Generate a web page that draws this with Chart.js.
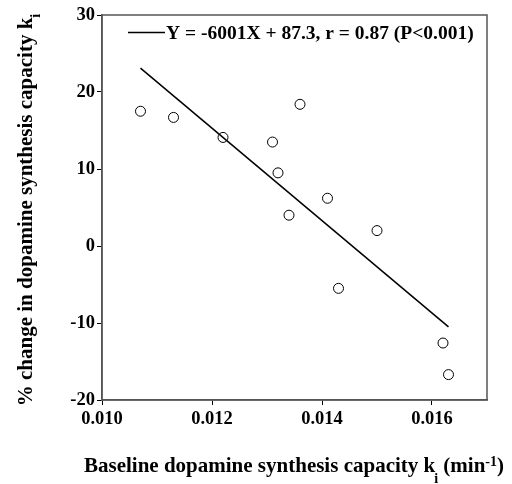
<!DOCTYPE html>
<html>
<head>
<meta charset="utf-8">
<script src="https://cdn.jsdelivr.net/npm/chart.js@4/dist/chart.umd.min.js"></script>
<style>
html,body{margin:0;padding:0;background:#fff;}
#wrap{width:512px;height:484px;}
</style>
</head>
<body>
<div id="wrap"><canvas id="c" width="512" height="484"></canvas></div>
<script>
// Data
const baselineKi = [0.0107, 0.0113, 0.0122, 0.0131, 0.0136, 0.0132, 0.0134, 0.0141, 0.0150, 0.0143, 0.0162, 0.0163];
const pctChange  = [17.5, 16.7, 14.1, 13.5, 18.4, 9.5, 4.0, 6.2, 2.0, -5.5, -12.6, -16.7];
const fitX = [0.0107, 0.0163];
const fitY = [23.1, -10.5];
const xTicks = [0.010, 0.012, 0.014, 0.016];
const yTicks = [-20, -10, 0, 10, 20, 30];
const legendLabel = "Y = -6001X + 87.3, r = 0.87 (P<0.001)";

const FONT = "'Liberation Serif', 'Times New Roman', serif";

const points = baselineKi.map((x, i) => ({x: x, y: pctChange[i]}));
const fitLine = fitX.map((x, i) => ({x: x, y: fitY[i]}));

const decor = {
  id: 'decor',
  afterDraw(chart) {
    const ctx = chart.ctx;
    const a = chart.chartArea;
    ctx.save();
    // frame
    ctx.strokeStyle = '#555';
    ctx.lineWidth = 1.5;
    ctx.strokeRect(a.left, a.top, a.right - a.left, a.bottom - a.top);

    // legend
    ctx.strokeStyle = '#000';
    ctx.lineWidth = 1.5;
    ctx.beginPath();
    ctx.moveTo(128, 32.5);
    ctx.lineTo(165, 32.5);
    ctx.stroke();
    ctx.fillStyle = '#000';
    ctx.font = "bold 19.5px " + FONT;
    ctx.textBaseline = 'alphabetic';
    ctx.textAlign = 'left';
    ctx.fillText(legendLabel, 166, 39);

    // rich title drawer
    function drawRich(parts, cx, baseY) {
      let total = 0;
      parts.forEach(p => { ctx.font = "bold " + p.size + "px " + FONT; p.w = ctx.measureText(p.t).width + (p.dx || 0); total += p.w; });
      let x = cx - total / 2;
      parts.forEach(p => {
        ctx.font = "bold " + p.size + "px " + FONT;
        ctx.fillText(p.t, x + (p.dx || 0), baseY + (p.dy || 0));
        x += p.w;
      });
    }
    const titleX = [
      {t: "Baseline dopamine synthesis capacity k", size: 21},
      {t: "i", size: 14, dy: 11, dx: -1},
      {t: " (min", size: 21},
      {t: "-1", size: 14, dy: -6},
      {t: ")", size: 21}
    ];
    drawRich(titleX, 294, 471.5);

    ctx.translate(32, 210);
    ctx.rotate(-Math.PI / 2);
    const titleY = [
      {t: "% change in dopamine synthesis capacity k", size: 21},
      {t: "i", size: 14, dy: 8}
    ];
    drawRich(titleY, 0, 0);
    ctx.restore();
  }
};

new Chart(document.getElementById('c'), {
  type: 'scatter',
  data: {
    datasets: [
      {
        label: 'data',
        data: points,
        showLine: false,
        pointStyle: 'circle',
        pointRadius: 5,
        pointBorderWidth: 1,
        borderColor: '#000',
        backgroundColor: 'rgba(255,255,255,0)'
      },
      {
        type: 'line',
        label: legendLabel,
        data: fitLine,
        showLine: true,
        borderColor: '#000',
        borderWidth: 1.5,
        pointRadius: 0,
        fill: false
      }
    ]
  },
  options: {
    responsive: false,
    animation: false,
    devicePixelRatio: 1,
    layout: {padding: {top: 15, right: 25, left: 0, bottom: 0}},
    plugins: {legend: {display: false}, tooltip: {enabled: false}},
    scales: {
      x: {
        type: 'linear',
        min: 0.010,
        max: 0.017,
        afterBuildTicks: s => { s.ticks = xTicks.map(v => ({value: v})); },
        afterFit: s => { s.height = 84; },
        ticks: {
          callback: v => Number(v).toFixed(3),
          font: {family: FONT, size: 18.5, weight: 'bold'},
          color: '#000',
          padding: 3,
          maxRotation: 0,
          autoSkip: false
        },
        grid: {drawOnChartArea: false, drawTicks: true, tickLength: 5, color: '#000', lineWidth: 1},
        border: {color: '#555', width: 1.5}
      },
      y: {
        type: 'linear',
        min: -20,
        max: 30,
        afterBuildTicks: s => { s.ticks = yTicks.map(v => ({value: v})); },
        afterFit: s => { s.width = 102; },
        ticks: {
          callback: v => String(v),
          font: {family: FONT, size: 18.5, weight: 'bold'},
          color: '#000',
          padding: 2,
          autoSkip: false
        },
        grid: {drawOnChartArea: false, drawTicks: true, tickLength: 5, color: '#000', lineWidth: 1},
        border: {color: '#555', width: 1.5}
      }
    }
  },
  plugins: [decor]
});
</script>
</body>
</html>
